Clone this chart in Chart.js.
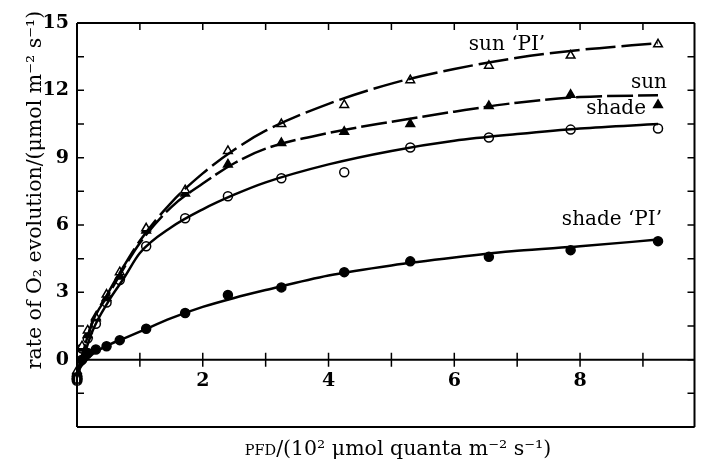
<!DOCTYPE html>
<html>
<head>
<meta charset="utf-8">
<script src="https://cdn.jsdelivr.net/npm/chart.js@4.4.1/dist/chart.umd.min.js"></script>
<style>
  html, body { margin: 0; padding: 0; background: #fff; }
  #wrap { width: 701px; height: 459px; position: relative; }
</style>
</head>
<body>
<div id="wrap"><canvas id="myChart"></canvas></div>
<script>
// measured points (PFD in 10^2 umol quanta m-2 s-1, rate in umol m-2 s-1)
const pfd = [0, 0.08, 0.17, 0.3, 0.47, 0.68, 1.1, 1.72, 2.4, 3.25, 4.25, 5.3, 6.55, 7.85, 9.24];
const sunPI = [-0.5, 0.6, 1.3, 1.9, 2.9, 3.9, 5.85, 7.55, 9.3, 10.5, 11.35, 12.45, 13.1, 13.55, 14.05];
const sun = [-0.6, 0.5, 1.1, 1.85, 2.75, 3.7, 5.75, 7.4, 8.7, 9.65, 10.15, 10.5, 11.3, 11.8, 11.35];
const shade = [-0.85, 0.5, 0.95, 1.6, 2.55, 3.55, 5.05, 6.3, 7.28, 8.08, 8.35, 9.45, 9.9, 10.25, 10.3];
const shadePI = [-0.7, 0.0, 0.3, 0.45, 0.6, 0.87, 1.38, 2.08, 2.88, 3.22, 3.9, 4.38, 4.58, 4.88, 5.28];

// fitted curves
const fitX = [0, 0.25, 0.5, 0.75, 1, 1.5, 2, 2.5, 3, 4, 5, 6, 7, 8, 9.24];
const sunPIFit = [-0.6, 1.7, 3.0, 4.2, 5.3, 7.0, 8.3, 9.35, 10.2, 11.4, 12.3, 12.95, 13.45, 13.8, 14.1];
const sunFit = [-0.6, 1.7, 2.9, 4.1, 5.2, 6.8, 7.85, 8.75, 9.4, 10.1, 10.6, 11.05, 11.45, 11.7, 11.78];
const shadeFit = [-0.8, 1.3, 2.6, 3.65, 4.75, 5.9, 6.7, 7.35, 7.9, 8.7, 9.3, 9.75, 10.05, 10.3, 10.5];
const shadePIFit = [-0.5, 0.25, 0.65, 0.95, 1.25, 1.85, 2.35, 2.75, 3.1, 3.75, 4.2, 4.55, 4.85, 5.05, 5.35];

const xTicks = [0, 1, 2, 3, 4, 5, 6, 7, 8, 9];
const xLabels = [0, 2, 4, 6, 8];
const yTicks = [-3, -1.5, 0, 1.5, 3, 4.5, 6, 7.5, 9, 10.5, 12, 13.5, 15];
const yLabels = [0, 3, 6, 9, 12, 15];

const curveLabels = [
    { text: 'sun \u2018PI\u2019', x: 507, y: 45, align: 'center' },
    { text: 'sun', x: 667, y: 83, align: 'right' },
    { text: 'shade', x: 646, y: 109, align: 'right' },
    { text: 'shade \u2018PI\u2019', x: 662, y: 220, align: 'right' }
];

const pts = ys => pfd.map((x, i) => ({ x: x, y: ys[i] }));
const fit = ys => fitX.map((x, i) => ({ x: x, y: ys[i] }));

const serif = '"DejaVu Serif", "Liberation Serif", serif';

const framePlugin = {
    id: 'frame',
    afterDraw(chart) {
        const ctx = chart.ctx;
        const a = chart.chartArea;
        const xs = chart.scales.x, ys = chart.scales.y;
        const y0 = ys.getPixelForValue(0);
        ctx.save();
        ctx.strokeStyle = '#000';
        ctx.lineWidth = 2;
        ctx.beginPath();
        ctx.moveTo(a.left, a.top); ctx.lineTo(a.right, a.top);
        ctx.moveTo(a.left, a.top); ctx.lineTo(a.left, a.bottom);
        ctx.moveTo(a.left, a.bottom); ctx.lineTo(a.right, a.bottom);
        ctx.moveTo(a.right, a.top); ctx.lineTo(a.right, a.bottom);
        ctx.moveTo(a.left, y0); ctx.lineTo(a.right, y0);
        ctx.stroke();

        ctx.lineWidth = 1.5;
        ctx.beginPath();
        xTicks.forEach(v => {
            const px = xs.getPixelForValue(v);
            ctx.moveTo(px, a.top); ctx.lineTo(px, a.top + 7);
            ctx.moveTo(px, y0 - 7); ctx.lineTo(px, y0 + 7);
        });
        yTicks.forEach(v => {
            const py = ys.getPixelForValue(v);
            ctx.moveTo(a.left, py); ctx.lineTo(a.left + 7, py);
            ctx.moveTo(a.right, py); ctx.lineTo(a.right - 7, py);
        });
        ctx.stroke();

        ctx.fillStyle = '#000';
        ctx.font = 'bold 19px ' + serif;
        ctx.textBaseline = 'middle';
        ctx.textAlign = 'right';
        yLabels.forEach(v => ctx.fillText(String(v), a.left - 8, ys.getPixelForValue(v)));
        ctx.textAlign = 'center';
        xLabels.forEach(v => ctx.fillText(String(v), xs.getPixelForValue(v), y0 + 21));

        ctx.font = '20px ' + serif;
        curveLabels.forEach(l => {
            ctx.textAlign = l.align;
            ctx.fillText(l.text, l.x, l.y);
        });

        // y title
        ctx.save();
        ctx.translate(36, 190);
        ctx.rotate(-Math.PI / 2);
        ctx.textAlign = 'center';
        ctx.font = '20.5px ' + serif;
        ctx.fillText('rate of O\u2082 evolution/(\u03bcmol m\u207b\u00b2 s\u207b\u00b9)', 0, 0);
        ctx.restore();

        // x title, PFD in small capitals
        const small = '14.5px ' + serif, big = '20.5px ' + serif;
        const p1 = 'PFD', p2 = '/(10\u00b2 \u03bcmol quanta m\u207b\u00b2 s\u207b\u00b9)';
        ctx.font = small; const w1 = ctx.measureText(p1).width;
        ctx.font = big; const w2 = ctx.measureText(p2).width;
        let sx = 398 - (w1 + w2) / 2;
        ctx.textAlign = 'left';
        ctx.textBaseline = 'alphabetic';
        ctx.font = small; ctx.fillText(p1, sx, 455);
        ctx.font = big; ctx.fillText(p2, sx + w1, 455);
        ctx.restore();
    }
};

const lineDs = (data, dash) => ({
    data: data,
    showLine: true,
    borderColor: '#000',
    borderWidth: 2.5,
    borderDash: dash,
    pointRadius: 0,
    cubicInterpolationMode: 'monotone',
    fill: false,
    clip: false
});
const markDs = (data, style, filled, r) => ({
    data: data,
    showLine: false,
    pointStyle: style,
    pointRadius: r,
    pointBorderWidth: 1.5,
    pointBorderColor: '#000',
    pointBackgroundColor: filled ? '#000' : '#fff',
    clip: false
});

const ctx = document.getElementById('myChart').getContext('2d');
new Chart(ctx, {
    type: 'scatter',
    data: {
        datasets: [
            lineDs(fit(sunPIFit), [30, 6]),
            lineDs(fit(sunFit), [26, 5]),
            lineDs(fit(shadeFit), []),
            lineDs(fit(shadePIFit), []),
            markDs(pts(sunPI), 'triangle', false, 5),
            markDs(pts(sun), 'triangle', true, 5),
            markDs(pts(shade), 'circle', false, 4.5),
            markDs(pts(shadePI), 'circle', true, 4.5)
        ]
    },
    options: {
        responsive: true,
        maintainAspectRatio: false,
        animation: false,
        layout: { padding: { left: 77, right: 2, top: 23, bottom: 32 } },
        scales: {
            x: { type: 'linear', min: 0, max: 9.82, display: false },
            y: { type: 'linear', min: -3, max: 15, display: false }
        },
        plugins: { legend: { display: false }, tooltip: { enabled: false } }
    },
    plugins: [framePlugin]
});
</script>
</body>
</html>
